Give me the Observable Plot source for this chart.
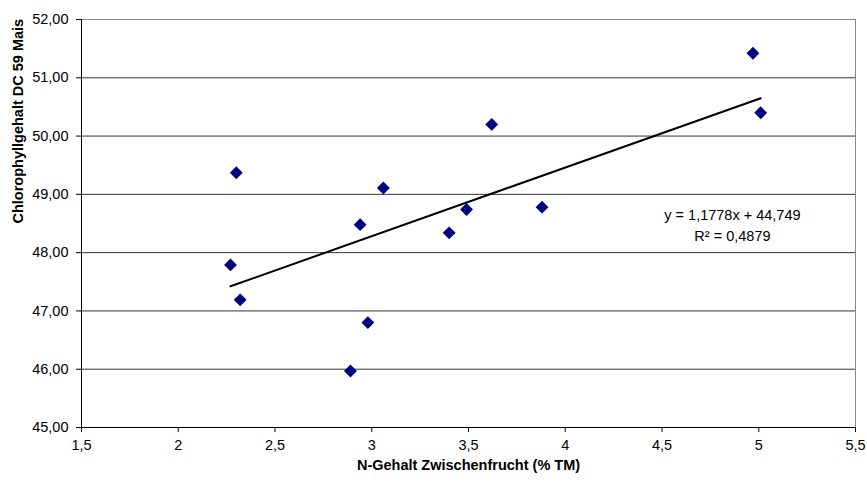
<!DOCTYPE html>
<html>
<head>
<meta charset="utf-8">
<script src="https://cdn.jsdelivr.net/npm/d3@7"></script>
<script src="https://cdn.jsdelivr.net/npm/@observablehq/plot@0.6"></script>
<style>
  html, body { margin: 0; padding: 0; background: #fff; }
  #chart svg { display: block; }
</style>
</head>
<body>
<div id="chart"></div>
<script>
// Data
const nGehalt = [2.27, 2.30, 2.32, 2.89, 2.94, 2.98, 3.06, 3.40, 3.49, 3.62, 3.88, 4.97, 5.01];
const chlorophyll = [47.79, 49.37, 47.19, 45.97, 48.48, 46.80, 49.11, 48.34, 48.74, 50.20, 48.78, 51.42, 50.40];

// Trendline coefficients as printed on the chart
const slope = 1.1778;
const intercept = 44.749;
const rSquared = 0.4879;

const xTicks = [1.5, 2, 2.5, 3, 3.5, 4, 4.5, 5, 5.5];
const yTicks = [45, 46, 47, 48, 49, 50, 51, 52];

const xLabel = "N-Gehalt Zwischenfrucht (% TM)";
const yLabel = "Chlorophyllgehalt DC 59 Mais";
const eqLines = [
  "y = " + slope.toString().replace(".", ",") + "x + " + intercept.toString().replace(".", ","),
  "R\u00B2 = " + rSquared.toString().replace(".", ",")
];
const eqPos = {x: 4.864, y: [48.64, 48.28]};

const points = nGehalt.map((x, i) => ({x, y: chlorophyll[i]}));
const [xmin, xmax] = d3.extent(nGehalt);
const trend = [xmin, xmax].map(x => ({x, y: slope * x + intercept}));

const fmtX = d => String(d).replace(".", ",");
const fmtY = d => d.toFixed(2).replace(".", ",");

const chart = Plot.plot({
  width: 867,
  height: 483,
  marginLeft: 81,
  marginRight: 12,
  marginTop: 19,
  marginBottom: 56,
  style: {fontFamily: "'Liberation Sans', Arial, sans-serif", fontSize: "14.5px", color: "#000", background: "#fff"},
  x: {domain: [1.5, 5.5], ticks: xTicks, tickFormat: fmtX, label: null},
  y: {domain: [45, 52], ticks: yTicks, tickFormat: fmtY, label: null},
  marks: [
    Plot.ruleY(yTicks.filter(d => d > 45 && d < 52), {stroke: "#333", strokeWidth: 1}),
    Plot.ruleY([52], {stroke: "#888"}),
    Plot.ruleX([5.5], {stroke: "#888"}),
    Plot.ruleX([1.5], {stroke: "#000"}),
    Plot.ruleY([45], {stroke: "#000"}),
    Plot.axisX({ticks: xTicks, tickFormat: fmtX, tickSize: 5, tickPadding: 7, label: null, stroke: "#000", fill: "#000"}),
    Plot.axisY({ticks: yTicks, tickFormat: fmtY, tickSize: 5, tickPadding: 8, label: null, stroke: "#000", fill: "#000"}),
    Plot.line(trend, {x: "x", y: "y", stroke: "#000", strokeWidth: 2}),
    Plot.dot(points, {x: "x", y: "y", symbol: "diamond2", r: 5.8, fill: "#000080", stroke: "none"}),
    Plot.text(eqLines, {x: () => eqPos.x, y: (d, i) => eqPos.y[i], text: d => d, fill: "#000"}),
    Plot.text([xLabel], {frameAnchor: "bottom", dy: 42, fontWeight: "bold", fill: "#000"}),
    Plot.text([yLabel], {frameAnchor: "left", dx: -63, rotate: -90, fontWeight: "bold", fill: "#000"})
  ]
});
document.getElementById("chart").append(chart);
</script>
</body>
</html>
